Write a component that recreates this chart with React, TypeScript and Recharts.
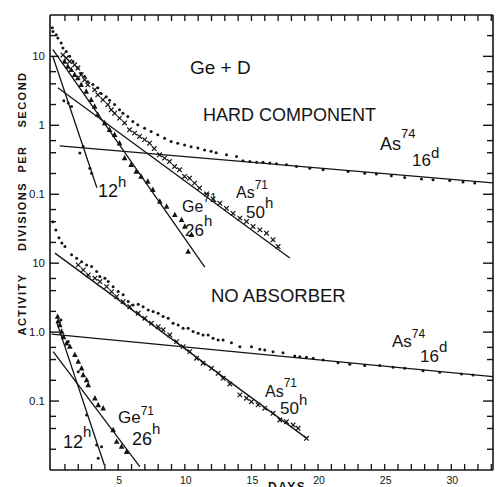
import React from 'react';
import { ComposedChart, Line, Scatter, XAxis, YAxis } from 'recharts';

// ---------- HARD COMPONENT (upper panel, values in div/s) ----------
const hardTotal: number[][] = [
  [0.05, 26], [0.1, 23.0], [0.35, 20.6], [0.47, 18.4], [0.72, 15.6], [0.85, 13.2], [1.1, 11.8], [1.35, 10.0],
  [1.6, 8.4], [1.97, 6.8], [2.22, 5.7], [2.48, 5.1], [2.72, 4.3], [3.1, 3.9], [3.47, 3.5], [3.72, 2.9],
  [4.1, 2.6], [4.35, 2.3], [4.73, 2.0], [5.1, 1.68], [5.35, 1.5], [5.72, 1.34], [6.1, 1.14], [6.47, 1.02],
  [6.98, 0.91], [7.47, 0.81], [7.97, 0.73], [8.48, 0.65], [8.97, 0.58], [9.47, 0.55], [9.98, 0.52],
  [10.47, 0.49], [10.98, 0.47], [11.48, 0.44], [11.97, 0.42], [12.35, 0.4], [13.13, 0.373], [13.88, 0.352],
  [14.37, 0.305], [14.88, 0.298], [15.38, 0.292], [15.87, 0.29], [16.38, 0.283], [16.88, 0.276],
  [17.63, 0.267], [18.38, 0.252], [19.38, 0.239], [20.38, 0.226], [22.25, 0.213], [23.5, 0.202],
  [24.38, 0.196], [25.5, 0.185], [26.5, 0.175], [27.76, 0.167], [28.63, 0.162], [29.88, 0.158],
  [30.88, 0.15], [31.76, 0.146],
];
const hardCross: number[][] = [
  [0.85, 10.5], [1.1, 9.45], [1.35, 8.44], [1.73, 7.55], [1.97, 6.76], [2.22, 5.41], [2.48, 4.57],
  [2.72, 3.87], [3.23, 3.27], [3.47, 2.77], [3.85, 2.34], [4.22, 1.99], [4.47, 1.68], [4.73, 1.5],
  [5.1, 1.27], [5.48, 1.08], [5.85, 0.86], [6.23, 0.77], [6.6, 0.69], [6.98, 0.62], [7.35, 0.55],
  [7.7, 0.46], [8.1, 0.373], [8.48, 0.334], [8.85, 0.298], [9.23, 0.252], [9.6, 0.226], [9.98, 0.181],
  [10.35, 0.171], [10.73, 0.145], [11.1, 0.123], [11.63, 0.101], [12.12, 0.0857], [12.63, 0.0738],
  [13.13, 0.0624], [13.62, 0.0528], [14.13, 0.045], [14.63, 0.0402], [15.12, 0.034], [15.63, 0.0304],
  [16.13, 0.0272], [16.62, 0.0218], [17.0, 0.0174],
];
const hardTri: number[][] = [
  [0.97, 8.44], [1.22, 7.13], [1.47, 6.39], [1.73, 5.41], [1.97, 4.84], [2.22, 3.87], [2.6, 3.1],
  [2.97, 2.34], [3.23, 1.87], [3.47, 1.42], [3.98, 1.08], [4.35, 0.86], [4.73, 0.73], [5.1, 0.55],
  [5.48, 0.334], [5.97, 0.267], [6.35, 0.213], [6.72, 0.181], [7.22, 0.153], [7.6, 0.116], [8.12, 0.0784],
  [8.63, 0.0664], [9.25, 0.0502], [9.75, 0.0425], [10.0, 0.034], [10.5, 0.0258], [10.25, 0.0147],
];
const hardDots12h: number[][] = [
  [0.92, 2.27], [1.25, 2.1], [1.5, 1.87], [2.12, 0.395], [2.37, 0.492], [2.87, 0.239], [3.0, 0.202],
];
const hard12hLine: number[][] = [[0.1, 9.87], [3.4, 0.124]];
const hardGe71Line: number[][] = [[0.1, 12.5], [11.5, 0.0088]];
const hardAs71Line: number[][] = [[0.47, 3.5], [17.88, 0.0119]];
const hardAs74Line: number[][] = [[0.6, 0.504], [33.1, 0.146]];

// ---------- NO ABSORBER (lower panel, values in div/s) ----------
const noAbsTotal: number[][] = [
  [0.1, 39.8], [0.32, 30.4], [0.55, 23.3], [0.77, 19.7], [1.0, 17.4], [1.5, 13.2], [1.88, 11.8],
  [2.25, 10.5], [2.63, 9.45], [3.0, 8.93], [3.38, 7.55], [3.62, 6.39], [4.0, 6.05], [4.25, 5.41],
  [4.62, 4.57], [5.0, 3.87], [5.37, 3.47], [5.75, 2.77], [6.12, 2.48], [6.5, 2.54], [6.87, 2.34],
  [7.25, 2.1], [7.62, 1.99], [8.0, 1.88], [8.37, 1.68], [8.75, 1.59], [9.12, 1.35], [9.5, 1.27],
  [9.87, 1.14], [10.25, 1.14], [10.62, 1.02], [11.0, 0.964], [11.37, 0.91], [11.75, 0.91], [12.12, 0.815],
  [12.5, 0.771], [12.87, 0.771], [13.5, 0.7], [14.13, 0.616], [15.0, 0.616], [15.63, 0.565], [16.0, 0.552],
  [16.62, 0.521], [17.37, 0.504], [18.25, 0.451], [18.63, 0.441], [19.13, 0.433], [19.63, 0.418],
  [20.38, 0.395], [21.5, 0.361], [22.38, 0.342], [23.5, 0.327], [24.63, 0.327], [25.63, 0.31],
  [26.5, 0.299], [27.88, 0.276], [29.13, 0.262], [30.76, 0.247], [31.63, 0.239],
];
const noAbsCross: number[][] = [
  [2.0, 9.45], [2.37, 8.0], [2.75, 6.76], [3.25, 6.05], [3.62, 5.41], [4.13, 4.57], [4.5, 3.87],
  [4.88, 3.27], [5.37, 2.77], [5.87, 2.34], [6.5, 1.88], [7.0, 1.59], [7.5, 1.35], [8.0, 1.2],
  [8.37, 1.08], [8.87, 0.91], [9.38, 0.728], [9.87, 0.616], [10.37, 0.521], [10.88, 0.418],
  [11.37, 0.354], [12.0, 0.299], [12.5, 0.253], [12.87, 0.214], [13.38, 0.177], [14.13, 0.123],
  [14.63, 0.11], [15.0, 0.098], [15.5, 0.088], [16.0, 0.0787], [16.62, 0.0665], [17.13, 0.0532],
  [17.63, 0.0502], [18.13, 0.045], [18.5, 0.0403], [19.13, 0.0288],
];
const noAbsTri: number[][] = [
  [0.45, 1.68], [0.5, 1.45], [0.62, 1.27], [0.75, 1.02], [0.9, 0.85], [1.13, 0.69], [1.37, 0.616],
  [1.75, 0.467], [2.0, 0.373], [2.25, 0.299], [2.37, 0.239], [2.63, 0.202], [2.75, 0.171], [3.25, 0.11],
  [3.5, 0.0878], [3.87, 0.0787], [4.62, 0.0381], [4.88, 0.0258], [5.25, 0.0218], [5.63, 0.0184],
];
const noAbsDots12h: number[][] = [
  [0.7, 1.5], [1.25, 0.73], [2.0, 0.267], [2.63, 0.063], [3.38, 0.0231], [3.5, 0.0148], [3.75, 0.0218],
];
const noAbs12hLine: number[][] = [[0.37, 1.42], [3.96, 0.0118]];
const noAbsGe71Line: number[][] = [[0.12, 0.521], [6.62, 0.0112]];
const noAbsAs71Line: number[][] = [[0.25, 14.0], [19.13, 0.029]];
const noAbsAs74Line: number[][] = [[0, 0.933], [33.13, 0.226]];

// ---------- axes ----------
const dayDomain = [-0.12, 33.13];
const dayTicks: number[] = Array.from({ length: 33 }, (_, i) => i + 1);
const dayLabels: number[] = [5, 10, 15, 20, 25, 30];
const loDomain = [0.01, 39810];
const hiDomain = [0.00001, 39.81];
const loMajors: number[] = [0.1, 1, 10, 100, 1000, 10000];
const loMajorLabels: string[] = ['0.1', '1.0', '10', '0.1', '1', '10'];
const minorMantissas: number[] = [2, 4, 6];

const INK = '#141414';
const FONT = '"Liberation Sans", Arial, sans-serif';

const toPts = (a: number[][]) => a.map(([day, v]) => ({ day, v }));

const buildTicks = (lo: number, hi: number) => {
  const out: number[] = [];
  for (let k = Math.floor(Math.log10(lo)); k <= Math.ceil(Math.log10(hi)); k++) {
    const base = Math.pow(10, k);
    [1, ...minorMantissas].forEach((m) => {
      const v = +(m * base).toPrecision(6);
      if (v > lo * 1.0001 && v < hi * 0.9999) out.push(v);
    });
  }
  return out;
};
const loTicks = buildTicks(loDomain[0], loDomain[1]);
const hiTicks = buildTicks(hiDomain[0], hiDomain[1]);
const isDecade = (v: number) => Math.abs(Math.log10(v) - Math.round(Math.log10(v))) < 1e-6;

const LeftTick = (p: any) => {
  const { x, y, payload } = p;
  const v = payload.value;
  const major = isDecade(v);
  const idx = loMajors.findIndex((m) => Math.abs(Math.log10(m) - Math.log10(v)) < 1e-6);
  return (
    <g>
      <line x1={x} x2={x + (major ? 9 : 6)} y1={y} y2={y} stroke={INK} strokeWidth={1.4} />
      {idx >= 0 && (
        <text x={x - 5} y={y + 4} textAnchor="end" fontSize={11.5} fontFamily={FONT} fill={INK}>
          {loMajorLabels[idx]}
        </text>
      )}
    </g>
  );
};
const RightTick = (p: any) => {
  const { x, y, payload } = p;
  const major = isDecade(payload.value);
  return <line x1={x} x2={x - (major ? 10 : 6)} y1={y} y2={y} stroke={INK} strokeWidth={1.4} />;
};
const BottomTick = (p: any) => {
  const { x, y, payload } = p;
  const v = payload.value;
  return (
    <g>
      <line x1={x} x2={x} y1={y} y2={y - 6} stroke={INK} strokeWidth={1.3} />
      {dayLabels.includes(v) && (
        <text x={x + 1} y={y + 13.5} textAnchor="middle" fontSize={10.5} fontFamily={FONT} fill={INK}>
          {v}
        </text>
      )}
    </g>
  );
};
const TopTick = (p: any) => {
  const { x, y } = p;
  return <line x1={x} x2={x} y1={y} y2={y + 6} stroke={INK} strokeWidth={1.3} />;
};

const DotShape = (p: any) => <circle cx={p.cx} cy={p.cy} r={1.5} fill={INK} />;
const CrossShape = (p: any) => {
  const { cx, cy } = p;
  const s = 2.3;
  return (
    <path
      d={`M${cx - s},${cy - s}L${cx + s},${cy + s}M${cx - s},${cy + s}L${cx + s},${cy - s}`}
      stroke={INK}
      strokeWidth={1.2}
    />
  );
};
const TriShape = (p: any) => {
  const { cx, cy } = p;
  return <path d={`M${cx},${cy - 3.2}L${cx + 2.8},${cy + 2.2}L${cx - 2.8},${cy + 2.2}Z`} fill={INK} />;
};

const Lbl = ({ x, y, t, sup, size = 17, supSize = 12, dy = -9 }: any) => (
  <text x={x} y={y} fontSize={size} fontFamily={FONT} fill={INK}>
    {t}
    {sup && (
      <tspan fontSize={supSize} dy={dy}>
        {sup}
      </tspan>
    )}
  </text>
);

const lineProps = { dataKey: 'v', stroke: INK, strokeWidth: 1.3, dot: false, isAnimationActive: false, type: 'linear' as const };

export default function App() {
  return (
    <div style={{ position: 'absolute', left: 0, top: 0, width: 496, height: 487, background: '#fff', overflow: 'hidden' }}>
      <ComposedChart width={496} height={487} margin={{ top: 0, right: 0, bottom: 0, left: 0 }}>
        <XAxis xAxisId="b" type="number" dataKey="day" domain={dayDomain} allowDataOverflow ticks={dayTicks}
          interval={0} tickSize={0} tickMargin={0} tick={BottomTick} tickLine={false} height={17}
          axisLine={{ stroke: INK, strokeWidth: 1.6 }} />
        <XAxis xAxisId="t" orientation="top" type="number" dataKey="day" domain={dayDomain} allowDataOverflow
          ticks={dayTicks} interval={0} tickSize={0} tickMargin={0} tick={TopTick} tickLine={false} height={15}
          axisLine={{ stroke: INK, strokeWidth: 1.6 }} />
        <YAxis yAxisId="lo" scale="log" type="number" domain={loDomain} allowDataOverflow ticks={loTicks}
          interval={0} tickSize={0} tickMargin={0} tick={LeftTick} tickLine={false} width={50}
          axisLine={{ stroke: INK, strokeWidth: 1.6 }} />
        <YAxis yAxisId="hi" orientation="right" scale="log" type="number" domain={hiDomain} allowDataOverflow
          ticks={hiTicks} interval={0} tickSize={0} tickMargin={0} tick={RightTick} tickLine={false} width={3}
          axisLine={{ stroke: INK, strokeWidth: 1.6 }} />

        {/* upper panel: hard component */}
        <Line xAxisId="t" yAxisId="hi" data={toPts(hard12hLine)} {...lineProps} />
        <Line xAxisId="t" yAxisId="hi" data={toPts(hardGe71Line)} {...lineProps} />
        <Line xAxisId="t" yAxisId="hi" data={toPts(hardAs71Line)} {...lineProps} />
        <Line xAxisId="t" yAxisId="hi" data={toPts(hardAs74Line)} {...lineProps} />
        <Scatter xAxisId="t" yAxisId="hi" data={toPts(hardTotal)} dataKey="v" shape={DotShape} isAnimationActive={false} />
        <Scatter xAxisId="t" yAxisId="hi" data={toPts(hardCross)} dataKey="v" shape={CrossShape} isAnimationActive={false} />
        <Scatter xAxisId="t" yAxisId="hi" data={toPts(hardTri)} dataKey="v" shape={TriShape} isAnimationActive={false} />
        <Scatter xAxisId="t" yAxisId="hi" data={toPts(hardDots12h)} dataKey="v" shape={DotShape} isAnimationActive={false} />

        {/* lower panel: no absorber */}
        <Line xAxisId="b" yAxisId="lo" data={toPts(noAbs12hLine)} {...lineProps} />
        <Line xAxisId="b" yAxisId="lo" data={toPts(noAbsGe71Line)} {...lineProps} />
        <Line xAxisId="b" yAxisId="lo" data={toPts(noAbsAs71Line)} {...lineProps} />
        <Line xAxisId="b" yAxisId="lo" data={toPts(noAbsAs74Line)} {...lineProps} />
        <Scatter xAxisId="b" yAxisId="lo" data={toPts(noAbsTotal)} dataKey="v" shape={DotShape} isAnimationActive={false} />
        <Scatter xAxisId="b" yAxisId="lo" data={toPts(noAbsCross)} dataKey="v" shape={CrossShape} isAnimationActive={false} />
        <Scatter xAxisId="b" yAxisId="lo" data={toPts(noAbsTri)} dataKey="v" shape={TriShape} isAnimationActive={false} />
        <Scatter xAxisId="b" yAxisId="lo" data={toPts(noAbsDots12h)} dataKey="v" shape={DotShape} isAnimationActive={false} />
      </ComposedChart>

      <svg width={496} height={487} style={{ position: 'absolute', left: 0, top: 0, pointerEvents: 'none' }}>
        <g fontFamily={FONT} fontWeight="bold" fontSize={11} fill={INK} letterSpacing={1.5}>
          <text x={26} y={99.5} textAnchor="middle" transform="rotate(-90 26 99.5)">SECOND</text>
          <text x={26} y={159} textAnchor="middle" transform="rotate(-90 26 159)">PER</text>
          <text x={26} y={216.5} textAnchor="middle" transform="rotate(-90 26 216.5)">DIVISIONS</text>
          <text x={26} y={304.5} textAnchor="middle" transform="rotate(-90 26 304.5)">ACTIVITY</text>
          <text x={268} y={491} fontSize={12}>DAYS</text>
        </g>
        <Lbl x={190} y={74} t="Ge + D" size={19} />
        <Lbl x={203} y={121} t="HARD COMPONENT" size={18} />
        <Lbl x={211} y={302} t="NO ABSORBER" size={18.5} />

        <Lbl x={380} y={150} t="As" sup="74" size={18} supSize={13} dy={-12} />
        <Lbl x={412} y={166} t="16" sup="d" size={17} supSize={15} dy={-8} />
        <Lbl x={236} y={198} t="As" sup="71" size={16} supSize={12} dy={-9} />
        <Lbl x={246} y={217.5} t="50" sup="h" size={17} supSize={15} dy={-10} />
        <Lbl x={182} y={212} t="Ge" sup="71" size={16} supSize={12} dy={-10} />
        <Lbl x={185} y={236} t="26" sup="h" size={17} supSize={15} dy={-10} />
        <Lbl x={98} y={197} t="12" sup="h" size={18} supSize={15} dy={-10} />

        <Lbl x={392} y={347} t="As" sup="74" size={17} supSize={12} dy={-9} />
        <Lbl x={420} y={362} t="16" sup="d" size={17} supSize={15} dy={-10} />
        <Lbl x={265} y={397} t="As" sup="71" size={16} supSize={12} dy={-10} />
        <Lbl x={280} y={413.5} t="50" sup="h" size={17} supSize={15} dy={-9} />
        <Lbl x={118} y={423} t="Ge" sup="71" size={17} supSize={12} dy={-8} />
        <Lbl x={132} y={445} t="26" sup="h" size={18} supSize={15} dy={-11} />
        <Lbl x={63} y={448} t="12" sup="h" size={18} supSize={15} dy={-11} />
      </svg>
    </div>
  );
}
